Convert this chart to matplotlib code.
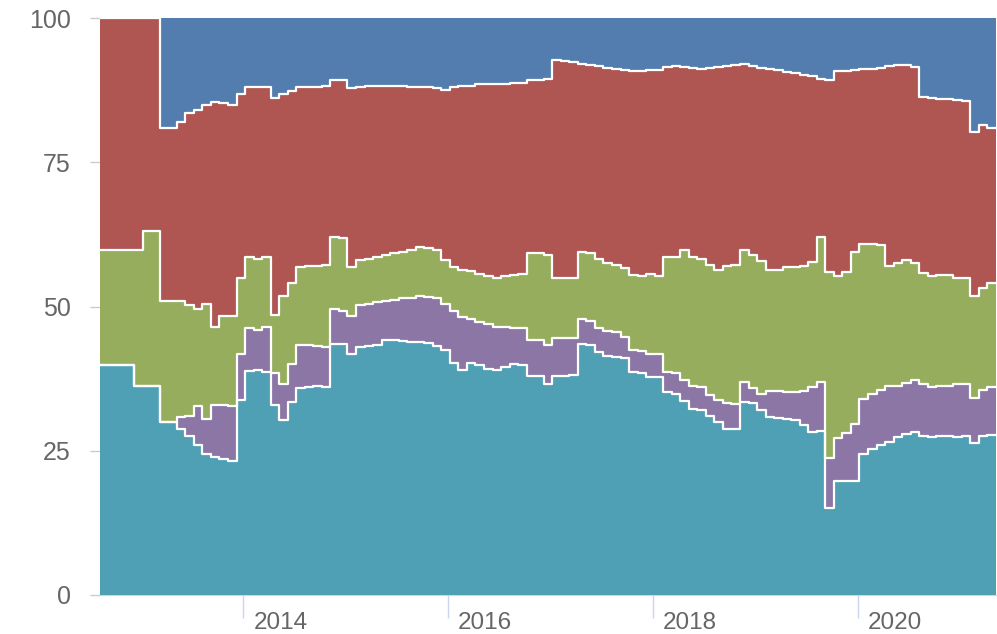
import numpy as np
import matplotlib
matplotlib.use("Agg")
import matplotlib.pyplot as plt
from matplotlib.transforms import ScaledTranslation

# Monthly steps starting around Aug 2012 (decimal years)
start_year = 2012.6
n_months = 105

# Cumulative levels (upper edge of each stacked layer), in %
level_teal = [39.8, 39.8, 39.8, 39.8, 36.3, 36.3, 36.3,
              30, 30, 28.7, 27.5, 26, 24.5, 24, 23.5, 23.3, 33.8, 38.8, 39, 38.7, 33, 30.3, 33.5, 35.8, 36, 36.2, 36, 43.5, 43.5,
              41.8, 43, 43.2, 43.3, 44.2, 44.2, 44, 43.8, 43.8, 43.6, 43.2, 42.5, 40.2,
              39, 40.2, 39.8, 39.2, 39, 39.5, 40, 39.8, 38, 38, 36.6, 38, 38, 38.2,
              43.5, 43.3, 42.2, 41.5, 41.3, 41, 38.6, 38.5, 37.8, 37.7, 35.2, 34.8, 33.6, 32.3,
              32, 31, 30, 28.8, 28.7, 33.4, 33.3, 32, 30.8, 30.7, 30.5, 30.4, 29.4, 28.3, 28.5,
              15, 19.7, 19.7, 19.7, 24.5, 25.3, 26, 26.5, 27.3, 27.9, 28.3,
              27.6, 27.3, 27.5, 27.6, 27.3, 27.5, 26.3, 27.5, 27.8]

level_purple = [39.8, 39.8, 39.8, 39.8, 36.3, 36.3, 36.3,
                30, 30, 30.8, 31, 32.8, 30.5, 33, 33, 32.8, 41.7, 46.3, 46, 46.5, 38.5, 36.5, 40, 43.3, 43.3, 43.2, 43, 49.5, 49.3,
                48.3, 50.2, 50.4, 50.8, 51, 51.2, 51.4, 51.5, 51.8, 51.7, 51.5, 50.5, 49.2,
                48.2, 47.8, 47.3, 47, 46.5, 46.4, 46.3, 46.3, 44.2, 44.2, 43.4, 44.5, 44.6, 44.6,
                47.8, 47.5, 46.2, 45.8, 45.6, 44.8, 42.5, 42.3, 41.8, 41.8, 38.7, 38.5, 37.3, 36.3,
                36, 34.6, 33.8, 33.2, 33.1, 36.9, 35.8, 34.8, 35.3, 35.3, 35.2, 35.2, 35.3, 36, 37,
                23.8, 27.2, 28, 29.6, 34, 34.8, 35.5, 36.3, 36.3, 36.8, 37.2,
                36.5, 36, 36.2, 36.3, 36.5, 36.5, 34.2, 35.6, 36]

level_green = [59.8, 59.8, 59.8, 59.8, 59.8, 63, 63,
               51, 51, 51, 50.3, 49.5, 50.5, 46.5, 48.3, 48.3, 55, 58.5, 58.2, 58.5, 48.5, 51.8, 54, 56.8, 57, 57, 57.2, 62, 61.8,
               56.8, 58, 58.2, 58.6, 59, 59.2, 59.4, 59.8, 60.3, 60.2, 59.8, 58, 56.8,
               56.3, 56.2, 55.6, 55.2, 55, 55.3, 55.5, 55.6, 59.2, 59.2, 59, 55, 55, 55,
               59.5, 59.2, 58.2, 57.5, 57.2, 56.6, 55.5, 55.3, 55.7, 55.3, 58.5, 58.5, 59.8, 58.6,
               58.3, 57.2, 56.3, 57, 57.2, 59.8, 59, 57.8, 56.4, 56.3, 56.8, 56.9, 57, 57.7, 62,
               56, 55.3, 56, 59.5, 60.8, 60.8, 60.6, 57, 57.5, 58, 57.5,
               55.8, 55.3, 55.5, 55.5, 55, 55, 51.8, 53.2, 54]

level_red = [100, 100, 100, 100, 100, 100, 100,
             81, 81, 82, 83.5, 84, 85, 85.5, 85.2, 85, 86.8, 88, 88, 88, 86.2, 86.8, 87.3, 88, 88, 88, 88.2, 89.3, 89.3,
             87.8, 88, 88.2, 88.3, 88.2, 88.2, 88.2, 88, 88, 88, 87.8, 87.6, 88,
             88.2, 88.3, 88.5, 88.5, 88.5, 88.5, 88.7, 88.7, 89.2, 89.3, 89.5, 92.8, 92.6, 92.4,
             92.1, 91.8, 91.6, 91.4, 91.2, 91, 90.9, 90.9, 91, 91, 91.5, 91.6, 91.5, 91.4,
             91.1, 91.3, 91.5, 91.6, 91.8, 92, 91.7, 91.4, 91.2, 91, 90.7, 90.4, 90.2, 89.9, 89.5,
             89.3, 90.8, 90.9, 91, 91.1, 91.2, 91.3, 91.7, 91.8, 91.8, 91.5,
             86.3, 86.1, 86, 85.9, 85.8, 85.7, 80.2, 81.5, 81]

level_blue = [100] * n_months

colors = ["#4FA0B5", "#8B76A6", "#96AD5D", "#B05652", "#537DAE"]
year_ticks = [2014, 2016, 2018, 2020]
y_ticks = [0, 25, 50, 75, 100]

x = start_year + np.arange(n_months + 1) / 12.0
levels = [np.zeros(n_months), level_teal, level_purple, level_green, level_red, level_blue]
levels = [np.append(np.asarray(l, float), l[-1]) for l in levels]

fig = plt.figure(figsize=(9.97, 6.34), dpi=100)
ax = fig.add_axes([100 / 997, 39 / 634, 897 / 997, 577 / 634])

for i in range(5):
    ax.fill_between(x, levels[i], levels[i + 1], step="post", color=colors[i], lw=0, zorder=2)
for i in range(1, 5):
    ax.step(x, levels[i], where="post", color="white", lw=1.6, zorder=3)

ax.set_xlim(start_year, x[-1] + 0.01)
ax.set_ylim(0, 100)

for s in ["top", "right", "left"]:
    ax.spines[s].set_visible(False)
ax.spines["bottom"].set_color("#ccd6eb")
ax.spines["bottom"].set_zorder(1)

ax.set_yticks(y_ticks)
ax.set_yticklabels([str(v) for v in y_ticks])
ax.tick_params(axis="y", length=7.2, width=1, color="#cccccc", pad=14,
               labelsize=18, labelcolor="#666666")

ax.set_xticks(year_ticks)
ax.set_xticklabels([str(v) for v in year_ticks])
ax.tick_params(axis="x", length=16.5, width=1, color="#ccd6eb", pad=-4.3,
               labelsize=17.5, labelcolor="#666666")
offset = ScaledTranslation(10 / 100, 0, fig.dpi_scale_trans)
for lab in ax.get_xticklabels():
    lab.set_horizontalalignment("left")
    lab.set_transform(lab.get_transform() + offset)

for lab in ax.get_xticklabels() + ax.get_yticklabels():
    lab.set_fontfamily(["Liberation Sans", "DejaVu Sans"])

fig.savefig("out.png", dpi=100)
